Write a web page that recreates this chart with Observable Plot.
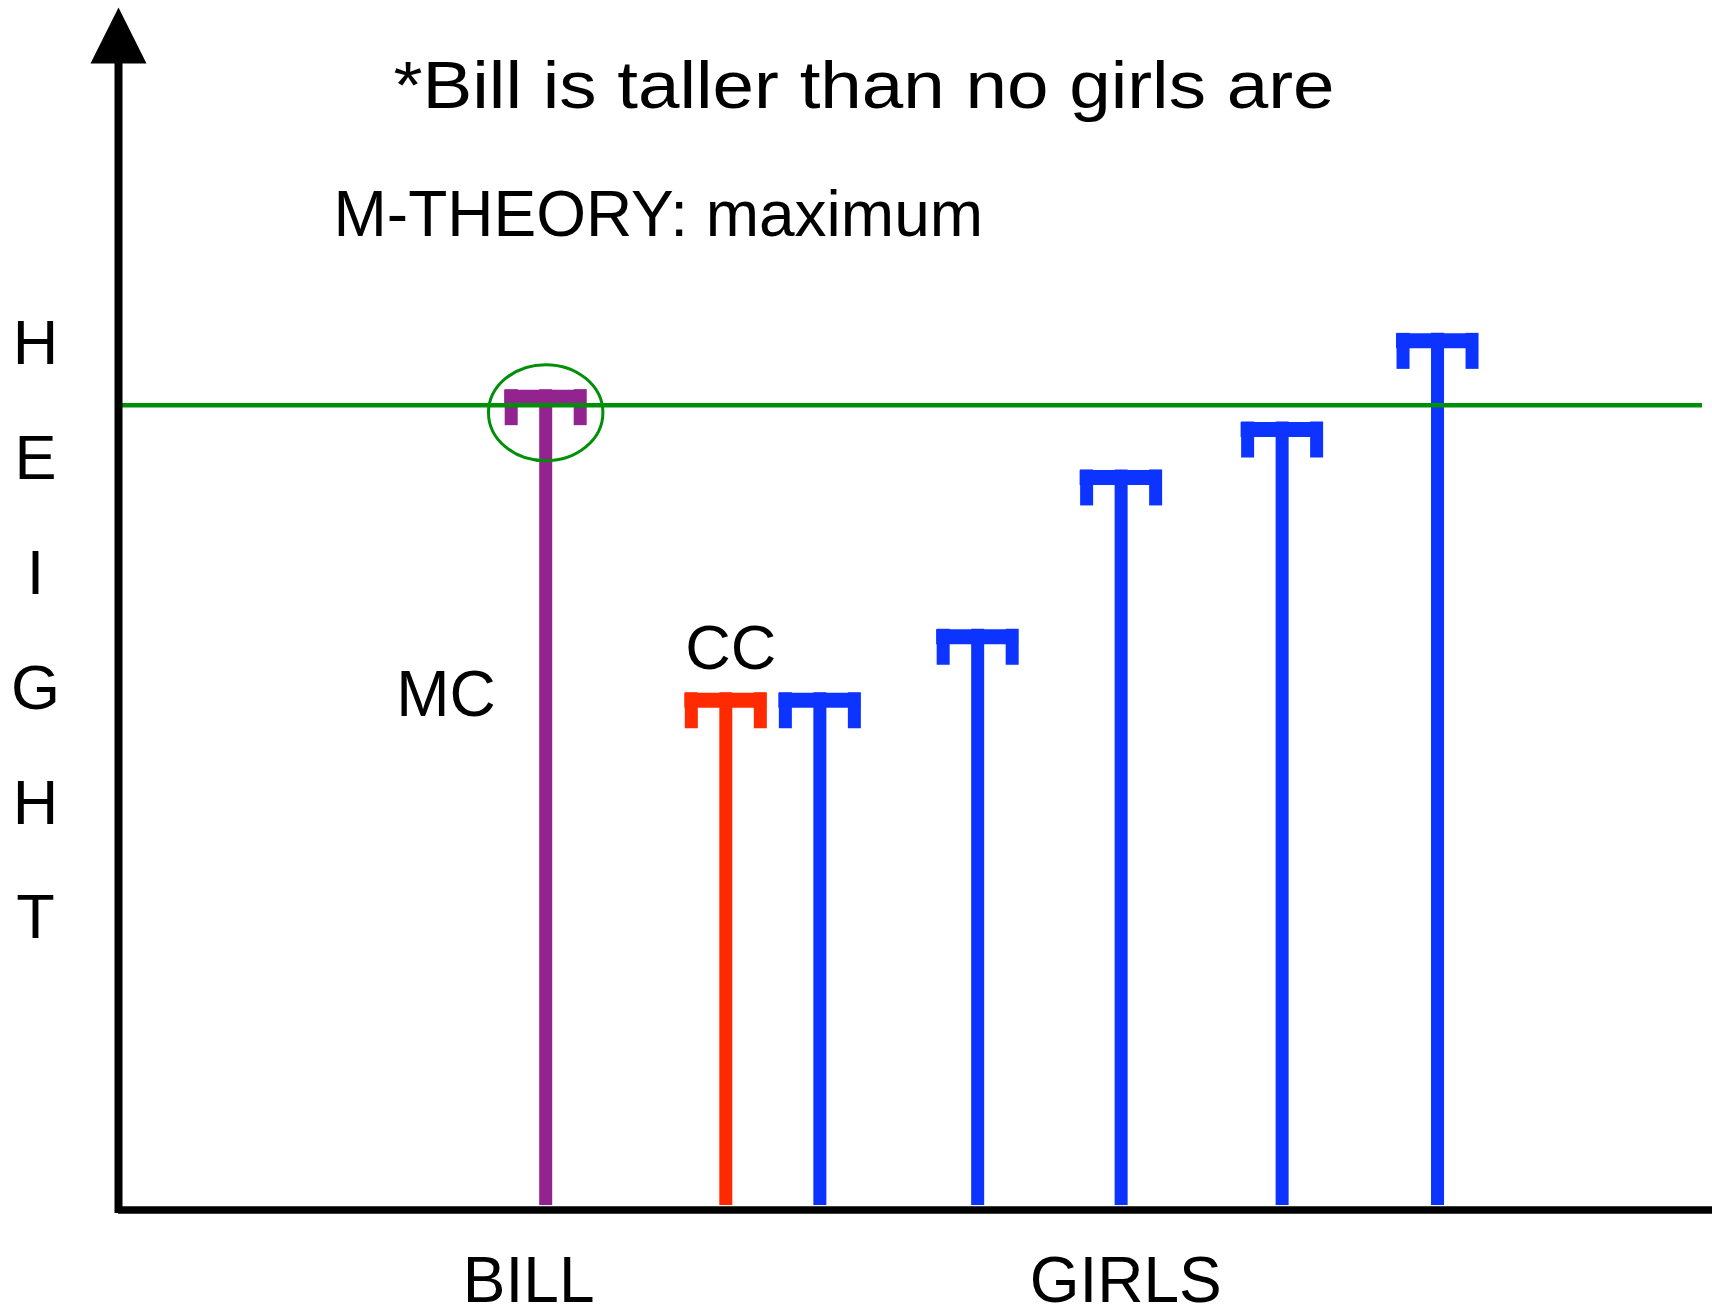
<!DOCTYPE html>
<html>
<head>
<meta charset="utf-8">
<script src="https://cdn.jsdelivr.net/npm/d3@7"></script>
<script src="https://cdn.jsdelivr.net/npm/@observablehq/plot@0.6"></script>
<style>
  html, body { margin: 0; padding: 0; background: #ffffff; }
  #chart svg { display: block; }
</style>
</head>
<body>
<div id="chart"></div>
<script>
// ---- data ----
const people    = ["Bill", "CC", "Girl 1", "Girl 2", "Girl 3", "Girl 4", "Girl 5"];
const groups    = ["MC", "CC", "girl", "girl", "girl", "girl", "girl"];
const positions = [26.8, 38.1, 44.0, 53.9, 62.9, 73.0, 82.75];   // where each person stands (0–100)
const heights   = [68.1, 42.8, 42.8, 48.1, 61.4, 65.4, 72.8];    // height (0–100)
const maximumHeight = 66.8;                                       // the M-theory "maximum" line
const titleText    = "*Bill is taller than no girls are";
const subtitleText = "M-THEORY: maximum";
const yAxisLetters = ["H", "E", "I", "G", "H", "T"];
const xAxisLabels  = ["BILL", "GIRLS"];
const groupLabels  = ["MC", "CC"];

// ---- tables built from the arrays ----
const bars = people.map((name, i) => ({name, group: groups[i], pos: positions[i], h: heights[i]}));
const bill = bars.filter(d => d.group === "MC");
const cc = bars.filter(d => d.group === "CC");
const girls = bars.filter(d => d.group === "girl");
const billLabel = [{label: xAxisLabels[0], pos: bill[0].pos}];
const girlsLabel = [{label: xAxisLabels[1], pos: d3.mean(girls, d => d.pos)}];

// ---- custom symbols ----
const triangleUp = {
  draw(ctx, size) {
    const r = Math.sqrt(size / Math.PI);
    ctx.moveTo(0, -r); ctx.lineTo(r, r); ctx.lineTo(-r, r); ctx.closePath();
  }
};
const ellipse = {
  draw(ctx, size) {
    const r = Math.sqrt(size / Math.PI);
    const rx = r * 1.1, ry = r * 0.923, k = 0.5523;
    ctx.moveTo(rx, 0);
    ctx.bezierCurveTo(rx, k * ry, k * rx, ry, 0, ry);
    ctx.bezierCurveTo(-k * rx, ry, -rx, k * ry, -rx, 0);
    ctx.bezierCurveTo(-rx, -k * ry, -k * rx, -ry, 0, -ry);
    ctx.bezierCurveTo(k * rx, -ry, rx, -k * ry, rx, 0);
    ctx.closePath();
  }
};

const FONT = "Liberation Sans, Arial, Helvetica, sans-serif";
const GREEN = "#009008";
const capHalf = 41, capBar = 15, prongDepth = 36, lineW = 13;

const svg = Plot.plot({
  width: 1712,
  height: 1314,
  marginLeft: 118,
  marginRight: 0,
  marginTop: 7,
  marginBottom: 109,
  style: {background: "#ffffff", fontFamily: FONT, overflow: "visible"},
  x: {domain: [0, 100], axis: null},
  y: {domain: [0, 100], axis: null},
  color: {type: "ordinal", domain: ["MC", "CC", "girl"], range: ["#93238f", "#ff2a00", "#0c33ff"]},
  marks: [
    // stems
    Plot.ruleX(bars, {x: "pos", y1: 0, y2: "h", stroke: "group", strokeWidth: lineW}),
    // cap cross-bar
    Plot.ruleY(bars, {y: "h", x1: "pos", x2: "pos", insetLeft: -capHalf, insetRight: -capHalf,
      dy: capBar / 2, stroke: "group", strokeWidth: capBar}),
    // cap prongs
    Plot.ruleX(bars, {x: "pos", y1: "h", y2: "h", insetBottom: -prongDepth,
      dx: -(capHalf - lineW / 2), stroke: "group", strokeWidth: lineW}),
    Plot.ruleX(bars, {x: "pos", y1: "h", y2: "h", insetBottom: -prongDepth,
      dx: (capHalf - lineW / 2), stroke: "group", strokeWidth: lineW}),
    // maximum line
    Plot.ruleY([maximumHeight], {stroke: GREEN, strokeWidth: 4.5, insetLeft: 4, insetRight: 10}),
    // circle around Bill's head
    Plot.dot(bill, {x: "pos", y: "h", dy: 23, r: 52, symbol: ellipse, fill: "none",
      stroke: GREEN, strokeWidth: 3}),
    // axes
    Plot.ruleY([0], {dy: 4.5, stroke: "#000", strokeWidth: 7.5}),
    Plot.ruleX([0], {y1: 100, y2: 0, insetTop: 33, insetBottom: -8, stroke: "#000", strokeWidth: 8}),
    Plot.dot([100], {x: 0, y: d => d, dy: 28, r: 28, symbol: triangleUp, fill: "#000", stroke: "none"}),
    // texts
    Plot.text([titleText], {x: 17.25, y: 91.6, text: d => d, textAnchor: "start", lineAnchor: "bottom",
      fontSize: 67, fontFamily: FONT, fill: "#000"}),
    Plot.text([subtitleText], {x: 13.49, y: 80.9, text: d => d, textAnchor: "start", lineAnchor: "bottom",
      fontSize: 64, fontFamily: FONT, fill: "#000"}),
    Plot.text([yAxisLetters.join("\n")], {x: 0, y: 22.3, dx: -83, text: d => d, textAnchor: "middle",
      lineAnchor: "bottom", lineHeight: 1.822, fontSize: 63, fontFamily: FONT, fill: "#000"}),
    Plot.text(bill, {x: "pos", y: 40.9, dx: -50, text: () => groupLabels[0], textAnchor: "end",
      lineAnchor: "bottom", fontSize: 64, fontFamily: FONT, fill: "#000"}),
    Plot.text(cc, {x: "pos", y: "h", dx: 5, dy: -24, text: () => groupLabels[1], textAnchor: "middle",
      lineAnchor: "bottom", fontSize: 63, fontFamily: FONT, fill: "#000"}),
    Plot.text(billLabel, {x: "pos", y: 0, dx: -17, dy: 96, text: "label", textAnchor: "middle",
      lineAnchor: "bottom", fontSize: 64, fontFamily: FONT, fill: "#000"}),
    Plot.text(girlsLabel, {x: "pos", y: 0, dx: -2, dy: 96, text: "label", textAnchor: "middle",
      lineAnchor: "bottom", fontSize: 64, fontFamily: FONT, fill: "#000"})
  ]
});

// the title in the reference is set a little wider than its natural width
d3.select(svg).selectAll("text").filter(function () { return this.textContent === titleText; })
  .attr("textLength", 941).attr("lengthAdjust", "spacingAndGlyphs");

document.getElementById("chart").appendChild(svg);
</script>
</body>
</html>
